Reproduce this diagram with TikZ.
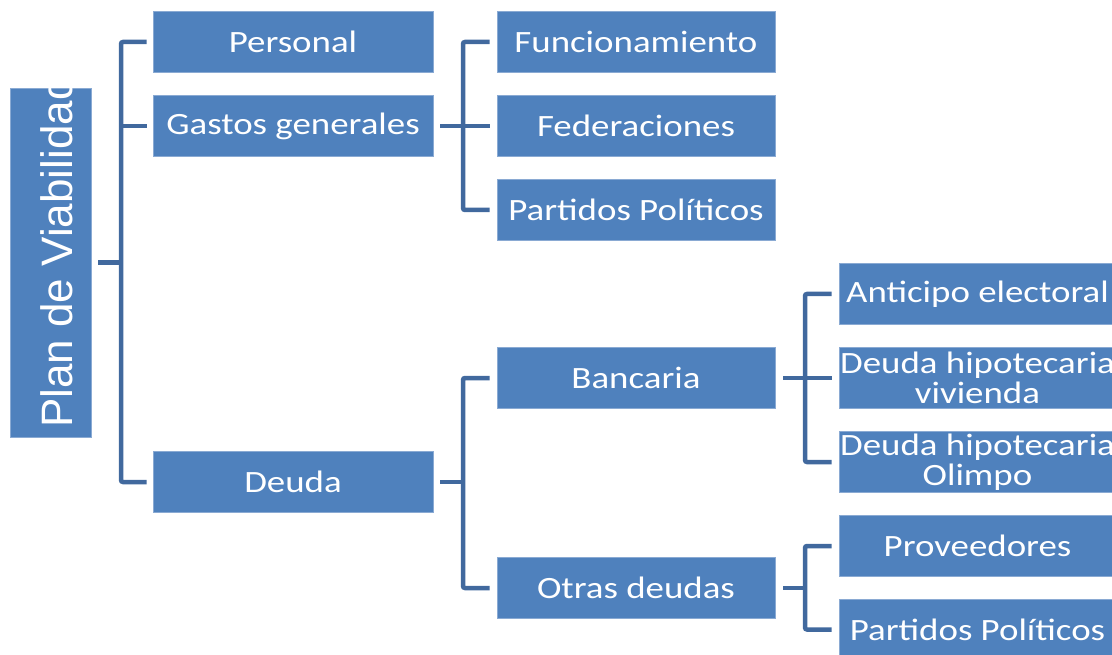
\documentclass[tikz,border=0pt]{standalone}
\usepackage{fontspec}
\newfontfamily\boxfont{Carlito}[FakeStretch=1.19]
\newfontfamily\rootfont{Liberation Sans}
\definecolor{boxblue}{HTML}{4F81BD}
\definecolor{boxedge}{HTML}{8AAAD3}
\definecolor{linkblue}{HTML}{41699E}
\begin{document}
\begin{tikzpicture}[x=1pt,y=-1pt,
  box/.style={fill=boxblue, draw=boxedge, line width=0.8pt, text=white, inner sep=0pt, align=center,
    font=\boxfont\fontsize{31}{30}\selectfont},
  lone/.style={box, minimum width=280pt, minimum height=61pt},
  ltwo/.style={box, minimum width=278pt, minimum height=61pt},
  lthree/.style={box, minimum width=277pt, minimum height=61pt},
  conn/.style={draw=linkblue, line width=4.5pt, rounded corners=2pt}]
\useasboundingbox (0,0) rectangle (1112,655);
\clip (0,0) rectangle (1112,655);
% root
\node[fill=boxblue, draw=boxedge, line width=0.8pt, minimum width=81pt, minimum height=349pt, inner sep=0pt] (root) at (50.5,262.5) {};
\begin{scope}
  \clip (root.north west) rectangle (root.south east);
  \node[rotate=90, anchor=base west, text=white, inner sep=0pt, font=\rootfont\fontsize{44}{44}\selectfont] (roottext) at (72,428) {Plan de Viabilidad};
\end{scope}
% level 1
\node[lone] (personal) at (293,42) {Personal};
\node[lone] (gastos) at (293,126) {Gastos generales};
\node[lone] (deuda) at (293,482) {Deuda};
% level 2
\node[ltwo] (func) at (636,42) {Funcionamiento};
\node[ltwo] (feder) at (636,126) {Federaciones};
\node[ltwo] (partidos) at (636,210) {Partidos Políticos};
\node[ltwo] (bancaria) at (636,378) {Bancaria};
\node[ltwo] (otras) at (636,588) {Otras deudas};
% level 3
\node[lthree] (anticipo) at (977.5,294) {Anticipo electoral};
\node[lthree] (vivienda) at (977.5,378) {Deuda hipotecaria\\vivienda};
\node[lthree] (olimpo) at (977.5,462) {Deuda hipotecaria\\Olimpo};
\node[lthree] (proveedores) at (977.5,546) {Proveedores};
\node[lthree] (partidosb) at (977.5,629.5) {Partidos Políticos};
% bar coordinates
\coordinate (b1) at (121,263);
\coordinate (b2) at (463,126);
\coordinate (b3) at (463,482);
\coordinate (b4) at (805,378);
\coordinate (b5) at (805,588);
% connectors
\draw[conn, shorten <=7pt] (root.east) -- (root.east -| b1);
\draw[conn, shorten <=6pt, shorten >=6pt] (personal.west) -| (b1) |- (deuda.west);
\draw[conn, shorten <=6pt] (gastos.west) -- (gastos.west -| b1);
\draw[conn, shorten <=7pt] (gastos.east) -- (gastos.east -| b2);
\draw[conn, shorten <=7pt, shorten >=7pt] (func.west) -| (b2) |- (partidos.west);
\draw[conn, shorten <=7pt] (feder.west) -- (feder.west -| b2);
\draw[conn, shorten <=7pt] (deuda.east) -- (deuda.east -| b3);
\draw[conn, shorten <=7pt, shorten >=7pt] (bancaria.west) -| (b3) |- (otras.west);
\draw[conn, shorten <=8pt] (bancaria.east) -- (bancaria.east -| b4);
\draw[conn, shorten <=7pt, shorten >=7pt] (anticipo.west) -| (b4) |- (olimpo.west);
\draw[conn, shorten <=7pt] (vivienda.west) -- (vivienda.west -| b4);
\draw[conn, shorten <=8pt] (otras.east) -- (otras.east -| b5);
\draw[conn, shorten <=7pt, shorten >=7pt] (proveedores.west) -| (b5) |- (partidosb.west);
\end{tikzpicture}
\end{document}
